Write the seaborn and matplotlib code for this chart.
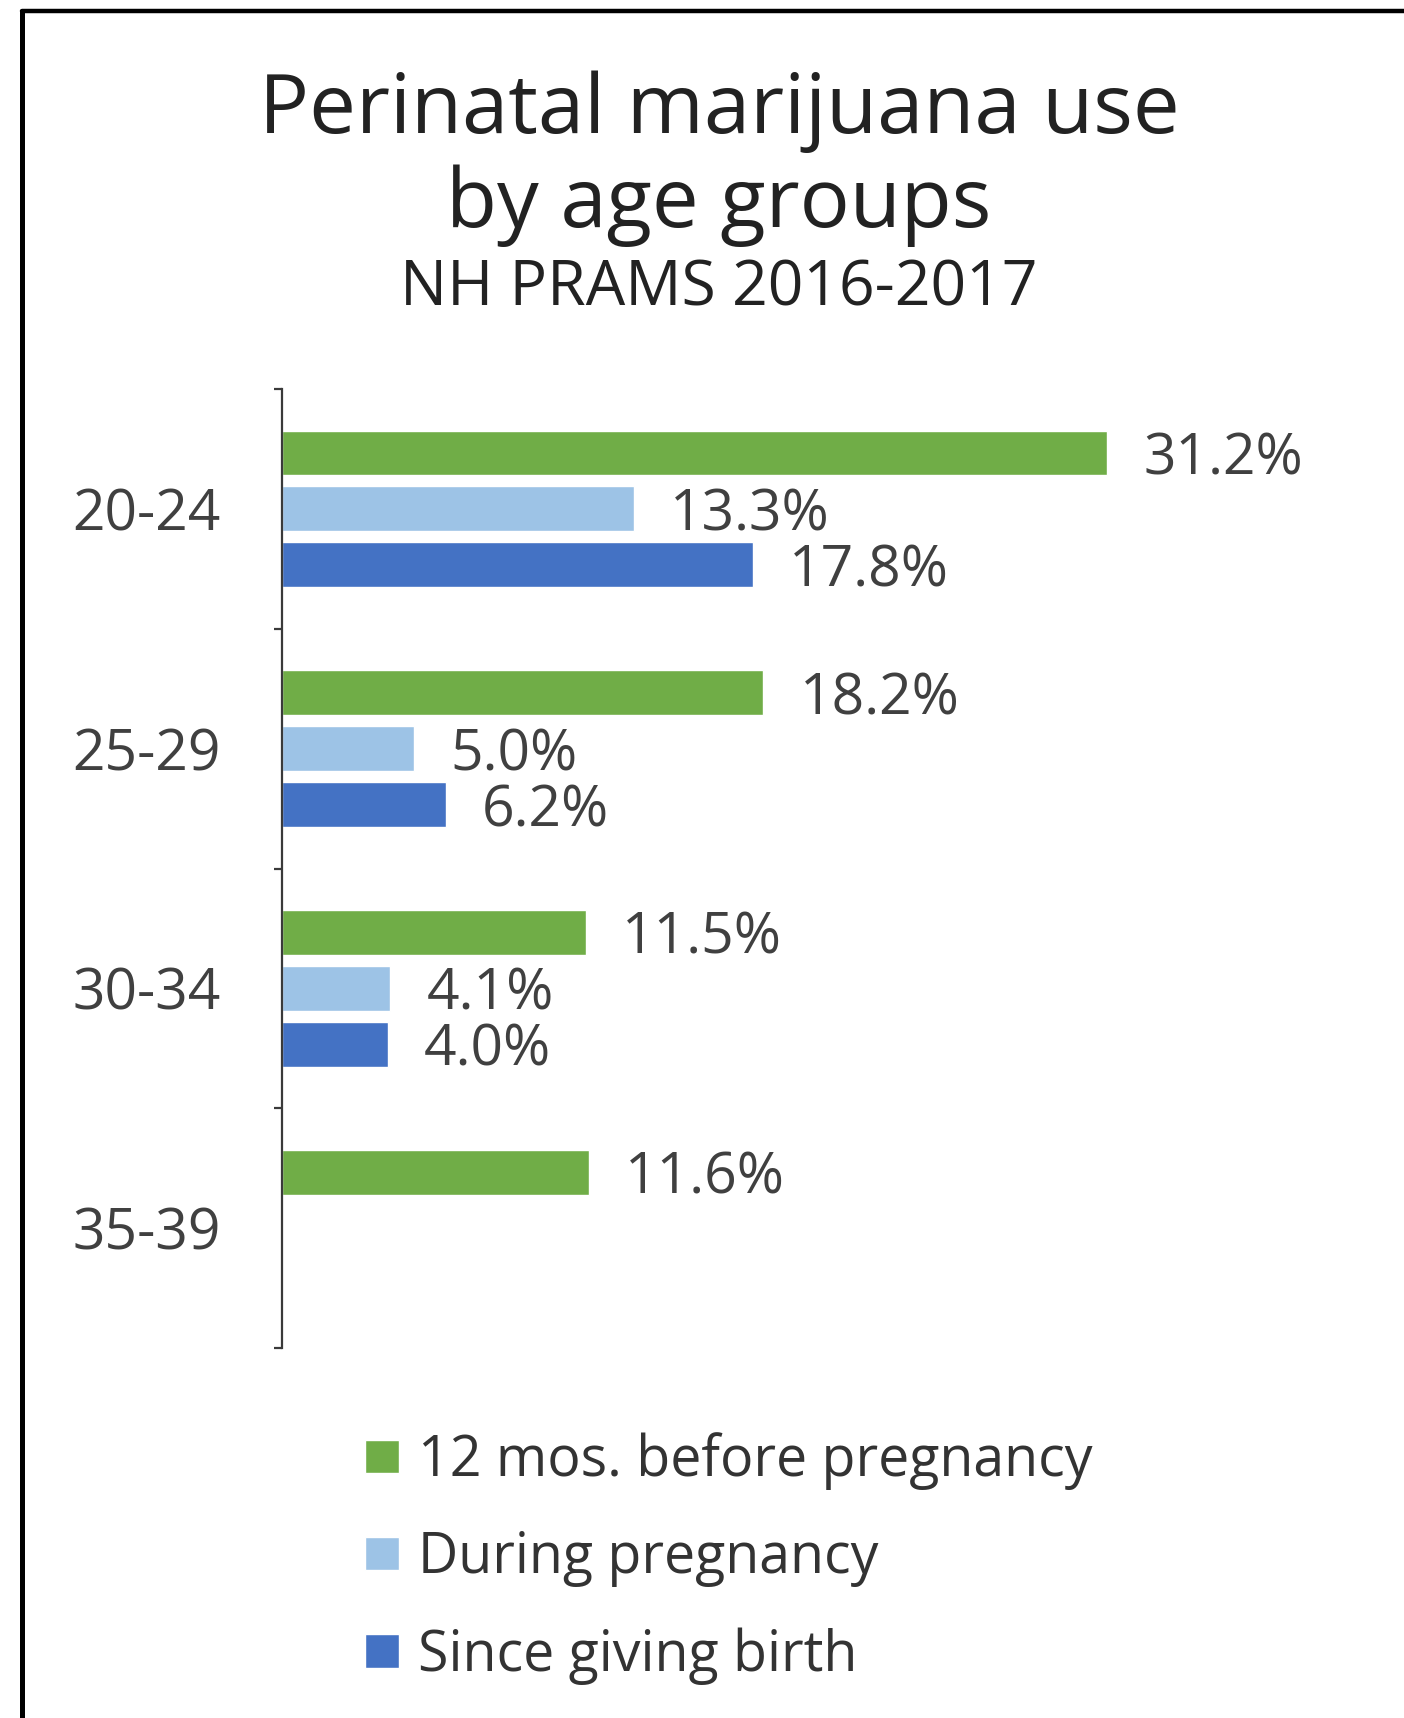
import matplotlib
matplotlib.use("Agg")
import matplotlib.pyplot as plt
from matplotlib.lines import Line2D
import numpy as np
import pandas as pd
import seaborn as sns

# Age groups and series values (percent); None = not reported
age_groups = ["20-24", "25-29", "30-34", "35-39"]
series_names = ["12 mos. before pregnancy", "During pregnancy", "Since giving birth"]
before_pregnancy = [31.2, 18.2, 11.5, 11.6]
during_pregnancy = [13.3, 5.0, 4.1, None]
since_birth = [17.8, 6.2, 4.0, None]
series_colors = ["#70AD47", "#9DC3E6", "#4472C4"]

title_lines = ["Perinatal marijuana use", "by age groups"]
subtitle = "NH PRAMS 2016-2017"

rows = []
for name, vals in zip(series_names, [before_pregnancy, during_pregnancy, since_birth]):
    for grp, v in zip(age_groups, vals):
        rows.append({"age": grp, "series": name, "pct": v})
df = pd.DataFrame(rows).dropna()

sns.set_theme(style="white")
plt.rcParams["font.family"] = ["Open Sans", "DejaVu Sans"]

W, H = 1404, 1718
fig = plt.figure(figsize=(W / 100, H / 100), dpi=100)
fig.patch.set_facecolor("white")

ax_left, ax_right = 282, 1340
ax_top, ax_bottom = 389, 1348
ax = fig.add_axes([ax_left / W, 1 - ax_bottom / H,
                   (ax_right - ax_left) / W, (ax_bottom - ax_top) / H])

sns.barplot(data=df, y="age", x="pct", hue="series",
            order=age_groups, hue_order=series_names,
            palette=series_colors, saturation=1, orient="h",
            width=0.7, gap=0.2, ax=ax, legend=True)

ax.set_xlim(0, 40)
ax.set_ylim(3.5, -0.5)

text_col = "#404040"
for cont in ax.containers:
    anns = ax.bar_label(cont, labels=[f"{v:.1f}%" for v in cont.datavalues],
                        padding=26, fontsize=41, color=text_col)
    for a in anns:
        a.set_verticalalignment("center_baseline")

# axis styling: only the left spine with boundary ticks
for s in ["top", "right", "bottom"]:
    ax.spines[s].set_visible(False)
ax.spines["left"].set_color("#3a3a3a")
ax.spines["left"].set_linewidth(1.6)
ax.set_xticks([])
ax.set_xlabel("")
ax.set_ylabel("")
ax.set_yticks(range(len(age_groups)))
ax.set_yticklabels(age_groups, fontsize=41, color=text_col)
ax.tick_params(axis="y", which="major", length=0, pad=44)
ax.set_yticks(np.arange(-0.5, len(age_groups), 1.0), minor=True)
ax.tick_params(axis="y", which="minor", left=True, length=6, width=1.6,
               color="#3a3a3a", direction="out")
ax.set_facecolor("white")

# legend below the plot
leg = ax.get_legend()
handles = leg.legend_handles
leg.remove()
fig.legend(handles, series_names, loc="upper left",
           bbox_to_anchor=(343 / W, 1 - 1410 / H),
           frameon=False, fontsize=40, labelcolor="#333333",
           handlelength=0.6, handleheight=0.55, handletextpad=0.35,
           labelspacing=0.72, borderaxespad=0)

# titles
fig.text(719 / W, 1 - 133 / H, title_lines[0], ha="center", va="baseline",
         fontsize=60, color="#222222")
fig.text(719 / W, 1 - 227 / H, title_lines[1], ha="center", va="baseline",
         fontsize=60, color="#222222")
fig.text(719 / W, 1 - 305 / H, subtitle, ha="center", va="baseline",
         fontsize=45, color="#222222")

# frame around the figure (top and left edges)
fig.add_artist(Line2D([22 / W, 1.01], [1 - 11 / H, 1 - 11 / H],
                      transform=fig.transFigure, color="black", lw=3.2))
fig.add_artist(Line2D([22 / W, 22 / W], [1 - 11 / H, -0.01],
                      transform=fig.transFigure, color="black", lw=3.6))

fig.savefig("out.png", dpi=100)
